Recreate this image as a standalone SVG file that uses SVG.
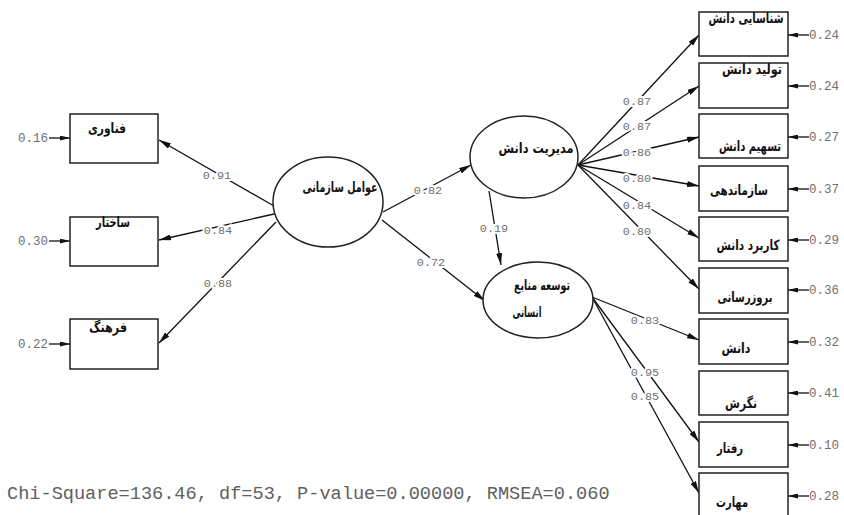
<svg xmlns="http://www.w3.org/2000/svg" width="844" height="515" viewBox="0 0 844 515">
<defs>
<marker id="ah" viewBox="0 0 12 6" refX="12" refY="3" markerWidth="12" markerHeight="6" markerUnits="userSpaceOnUse" orient="auto"><path d="M0,0 L12,3 L0,6 z" fill="#111"/></marker>
<marker id="eh" viewBox="0 0 10 5" refX="10" refY="2.5" markerWidth="10" markerHeight="5" markerUnits="userSpaceOnUse" orient="auto"><path d="M0,0 L10,2.5 L0,5 z" fill="#111"/></marker>
</defs>
<style>
.box{fill:#fff;stroke:#222;stroke-width:1.5}
.ell{fill:#fff;stroke:#222;stroke-width:1.5}
.fa{font-family:"DejaVu Sans",sans-serif;font-weight:bold;font-size:14px;fill:#111;text-anchor:middle}
.ln{stroke:#111;stroke-width:1.3;fill:none;marker-end:url(#ah)}
.el{stroke:#111;stroke-width:1.3;fill:none;marker-end:url(#eh)}
.lbl{font-family:"Liberation Mono",monospace;font-size:11.8px;fill:#707070;text-anchor:middle;stroke:#fff;stroke-width:4;paint-order:stroke}
.err{font-family:"Liberation Mono",monospace;font-size:12.5px;fill:#707070}
.fit{font-family:"Liberation Mono",monospace;font-size:18.6px;fill:#606060}
</style>
<rect width="844" height="515" fill="#fff"/>
<g id="connectors">
<line class="ln" x1="274" y1="206" x2="159" y2="140"/>
<line class="ln" x1="274" y1="214" x2="159" y2="240"/>
<line class="ln" x1="276" y1="222" x2="159" y2="343"/>
<line class="ln" x1="383" y1="212" x2="471" y2="165"/>
<line class="ln" x1="382" y1="220" x2="485" y2="301"/>
<line class="ln" x1="489" y1="191" x2="501" y2="265"/>
<line class="ln" x1="578" y1="165" x2="699" y2="35"/>
<line class="ln" x1="578" y1="165" x2="699" y2="86"/>
<line class="ln" x1="578" y1="165" x2="699" y2="137"/>
<line class="ln" x1="578" y1="165" x2="699" y2="186"/>
<line class="ln" x1="578" y1="165" x2="699" y2="238"/>
<line class="ln" x1="578" y1="165" x2="699" y2="289"/>
<line class="ln" x1="592" y1="297" x2="699" y2="340"/>
<line class="ln" x1="592" y1="297" x2="699" y2="442"/>
<line class="ln" x1="592" y1="297" x2="699" y2="493"/>
<line class="el" x1="49" y1="138" x2="70" y2="138"/>
<line class="el" x1="49" y1="241" x2="70" y2="241"/>
<line class="el" x1="49" y1="344" x2="70" y2="344"/>
<line class="el" x1="809" y1="35" x2="788" y2="35"/>
<line class="el" x1="809" y1="86" x2="788" y2="86"/>
<line class="el" x1="809" y1="137" x2="788" y2="137"/>
<line class="el" x1="809" y1="189" x2="788" y2="189"/>
<line class="el" x1="809" y1="240" x2="788" y2="240"/>
<line class="el" x1="809" y1="290" x2="788" y2="290"/>
<line class="el" x1="809" y1="342" x2="788" y2="342"/>
<line class="el" x1="809" y1="393" x2="788" y2="393"/>
<line class="el" x1="809" y1="445" x2="788" y2="445"/>
<line class="el" x1="809" y1="496" x2="788" y2="496"/>
<text class="lbl" x="217" y="179">0.91</text>
<text class="lbl" x="218" y="234">0.84</text>
<text class="lbl" x="218" y="287">0.88</text>
<text class="lbl" x="428" y="194">0.82</text>
<text class="lbl" x="431" y="266">0.72</text>
<text class="lbl" x="494" y="232">0.19</text>
<text class="lbl" x="637" y="105">0.87</text>
<text class="lbl" x="637" y="130">0.87</text>
<text class="lbl" x="637" y="156">0.86</text>
<text class="lbl" x="637" y="182">0.80</text>
<text class="lbl" x="637" y="209">0.84</text>
<text class="lbl" x="637" y="235">0.80</text>
<text class="lbl" x="645" y="324">0.83</text>
<text class="lbl" x="645" y="376">0.95</text>
<text class="lbl" x="645" y="400">0.85</text>
<text class="err" x="18" y="142">0.16</text>
<text class="err" x="18" y="245">0.30</text>
<text class="err" x="18" y="348">0.22</text>
<text class="err" x="809" y="39">0.24</text>
<text class="err" x="809" y="90">0.24</text>
<text class="err" x="809" y="141">0.27</text>
<text class="err" x="809" y="193">0.37</text>
<text class="err" x="809" y="244">0.29</text>
<text class="err" x="809" y="294">0.36</text>
<text class="err" x="809" y="346">0.32</text>
<text class="err" x="809" y="397">0.41</text>
<text class="err" x="809" y="449">0.10</text>
<text class="err" x="809" y="500">0.28</text>
</g>
<g id="n-fanavari"><rect class="box" x="70" y="114" width="88" height="49"/><text class="fa" x="107" y="133" textLength="38" lengthAdjust="spacingAndGlyphs">فناوری</text></g>
<g id="n-sakhtar"><rect class="box" x="70" y="217" width="88" height="49"/><text class="fa" x="113" y="227" textLength="34" lengthAdjust="spacingAndGlyphs">ساختار</text></g>
<g id="n-farhang"><rect class="box" x="70" y="319" width="88" height="50"/><text class="fa" x="108" y="332" textLength="38" lengthAdjust="spacingAndGlyphs">فرهنگ</text></g>
<g id="n-avamel"><ellipse class="ell" cx="328" cy="202" rx="55" ry="45"/><text class="fa" x="340" y="192" textLength="75" lengthAdjust="spacingAndGlyphs">عوامل سازمانی</text></g>
<g id="n-modiriat"><ellipse class="ell" cx="524" cy="157" rx="54" ry="41"/><text class="fa" x="536" y="153" textLength="75" lengthAdjust="spacingAndGlyphs">مدیریت دانش</text></g>
<g id="n-tose"><ellipse class="ell" cx="538" cy="300" rx="55" ry="38"/><text class="fa" x="542" y="290" textLength="56" lengthAdjust="spacingAndGlyphs">توسعه منابع</text><text class="fa" x="527" y="317" textLength="29" lengthAdjust="spacingAndGlyphs">انسانی</text></g>
<g id="n-r1"><rect class="box" x="699" y="12" width="89" height="44"/><text class="fa" x="746" y="23" textLength="75" lengthAdjust="spacingAndGlyphs">شناسایی دانش</text></g>
<g id="n-r2"><rect class="box" x="699" y="63" width="89" height="45"/><text class="fa" x="752" y="74" textLength="60" lengthAdjust="spacingAndGlyphs">تولید  دانش</text></g>
<g id="n-r3"><rect class="box" x="699" y="114" width="89" height="44"/><text class="fa" x="750" y="151" textLength="62" lengthAdjust="spacingAndGlyphs">تسهیم دانش</text></g>
<g id="n-r4"><rect class="box" x="699" y="166" width="89" height="45"/><text class="fa" x="739" y="195" textLength="58" lengthAdjust="spacingAndGlyphs">سازماندهی</text></g>
<g id="n-r5"><rect class="box" x="699" y="217" width="89" height="44"/><text class="fa" x="748" y="250" textLength="63" lengthAdjust="spacingAndGlyphs">کاربرد دانش</text></g>
<g id="n-r6"><rect class="box" x="699" y="268" width="89" height="45"/><text class="fa" x="745" y="302" textLength="55" lengthAdjust="spacingAndGlyphs">بروزرسانی</text></g>
<g id="n-r7"><rect class="box" x="699" y="319" width="89" height="45"/><text class="fa" x="736" y="353" textLength="29" lengthAdjust="spacingAndGlyphs">دانش</text></g>
<g id="n-r8"><rect class="box" x="699" y="371" width="89" height="44"/><text class="fa" x="741" y="408" textLength="32" lengthAdjust="spacingAndGlyphs">نگرش</text></g>
<g id="n-r9"><rect class="box" x="699" y="422" width="89" height="45"/><text class="fa" x="730" y="453" textLength="26" lengthAdjust="spacingAndGlyphs">رفتار</text></g>
<g id="n-r10"><rect class="box" x="699" y="473" width="89" height="46"/><text class="fa" x="732" y="507" textLength="32" lengthAdjust="spacingAndGlyphs">مهارت</text></g>
<text class="fit" x="7" y="499">Chi-Square=136.46, df=53, P-value=0.00000, RMSEA=0.060</text>
</svg>
